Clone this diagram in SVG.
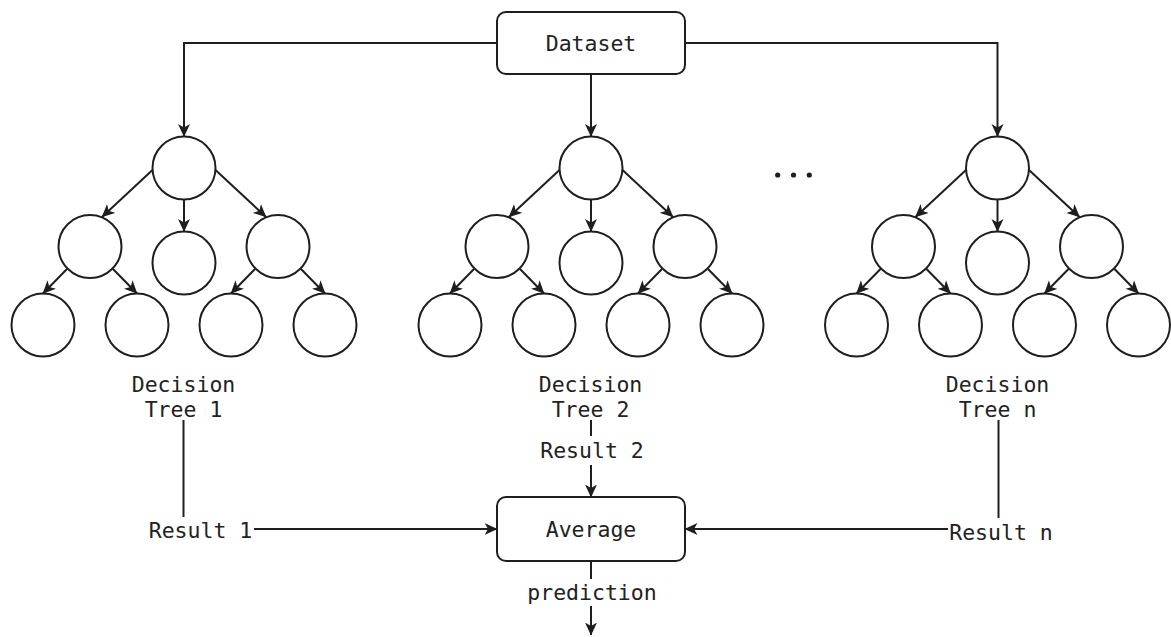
<svg xmlns="http://www.w3.org/2000/svg" width="1171" height="637" viewBox="0 0 1171 637">
  <style>
    .bg { fill: #ffffff; }
    .box { fill: #ffffff; stroke: #1e1e1e; stroke-width: 2; }
    .node { fill: #ffffff; stroke: #1e1e1e; stroke-width: 2; }
    .edge { fill: none; stroke: #1e1e1e; stroke-width: 2; }
    .arrow { marker-end: url(#head); }
    .lbl { font-family: "DejaVu Sans Mono", "Liberation Mono", monospace; font-size: 21.5px; fill: #222222; text-anchor: middle; }
    .dot { fill: #1e1e1e; }
  </style>
  <defs>
    <marker id="head" viewBox="0 0 13 13" refX="12.5" refY="6.5" markerWidth="13" markerHeight="13" markerUnits="userSpaceOnUse" orient="auto">
      <path d="M0,0.5 L13,6.5 L0,12.5 L3.5,6.5 z" fill="#1e1e1e"/>
    </marker>
    <!-- one decision tree: root, three children, four leaves -->
    <g id="tree-shape">
      <g class="edges">
        <path class="edge arrow" d="M152.5,170 L102,217"/>
        <path class="edge arrow" d="M184,199.5 L184,231.5"/>
        <path class="edge arrow" d="M215.5,170 L266,217"/>
        <path class="edge arrow" d="M67,269 L43,293.5"/>
        <path class="edge arrow" d="M113,269 L137,293.5"/>
        <path class="edge arrow" d="M255,269 L231,293.5"/>
        <path class="edge arrow" d="M301,269 L325,293.5"/>
      </g>
      <circle class="node" cx="184" cy="168" r="31.5"/>
      <circle class="node" cx="90" cy="246.5" r="31.5"/>
      <circle class="node" cx="184" cy="263" r="31.5"/>
      <circle class="node" cx="278" cy="246.5" r="31.5"/>
      <circle class="node" cx="43" cy="325" r="31.5"/>
      <circle class="node" cx="137" cy="325" r="31.5"/>
      <circle class="node" cx="231" cy="325" r="31.5"/>
      <circle class="node" cx="325" cy="325" r="31.5"/>
    </g>
  </defs>

  <rect class="bg" x="0" y="0" width="1171" height="637"/>

  <!-- connectors between the main nodes -->
  <g id="connectors">
    <path class="edge arrow" d="M497,43 L184,43 L184,136.5"/>
    <path class="edge arrow" d="M591,74 L591,136.5"/>
    <path class="edge arrow" d="M685,43 L997.5,43 L997.5,136.5"/>
    <path class="edge" d="M183.5,420 L183.5,517"/>
    <path class="edge arrow" d="M254,529 L497,529"/>
    <path class="edge" d="M591,420 L591,436"/>
    <path class="edge arrow" d="M591,465 L591,497"/>
    <path class="edge" d="M998.5,420 L998.5,518"/>
    <path class="edge arrow" d="M948,529 L685,529"/>
    <path class="edge" d="M591,561 L591,579"/>
    <path class="edge arrow" d="M591,606 L591,635"/>
  </g>

  <g id="dataset">
    <rect class="box" x="497" y="12" width="188" height="62" rx="9"/>
    <text class="lbl" x="591" y="50.5">Dataset</text>
  </g>

  <g id="tree-1">
    <use href="#tree-shape"/>
    <text class="lbl" x="183.5" y="392">Decision</text>
    <text class="lbl" x="183.5" y="417">Tree 1</text>
  </g>

  <g id="tree-2">
    <use href="#tree-shape" transform="translate(407,0)"/>
    <text class="lbl" x="590.5" y="392">Decision</text>
    <text class="lbl" x="590.5" y="417">Tree 2</text>
  </g>

  <g id="ellipsis">
    <circle class="dot" cx="777.7" cy="175" r="2.6"/>
    <circle class="dot" cx="793.5" cy="175" r="2.6"/>
    <circle class="dot" cx="809.3" cy="175" r="2.6"/>
  </g>

  <g id="tree-n">
    <use href="#tree-shape" transform="translate(813.5,0)"/>
    <text class="lbl" x="997.5" y="392">Decision</text>
    <text class="lbl" x="997.5" y="417">Tree n</text>
  </g>

  <g id="result-1">
    <text class="lbl" x="200.5" y="538">Result 1</text>
  </g>
  <g id="result-2">
    <text class="lbl" x="592" y="458">Result 2</text>
  </g>
  <g id="result-n">
    <text class="lbl" x="1001" y="540">Result n</text>
  </g>

  <g id="average">
    <rect class="box" x="497" y="497" width="188" height="64" rx="9"/>
    <text class="lbl" x="591" y="536.5">Average</text>
  </g>

  <g id="prediction">
    <text class="lbl" x="592" y="600">prediction</text>
  </g>
</svg>
